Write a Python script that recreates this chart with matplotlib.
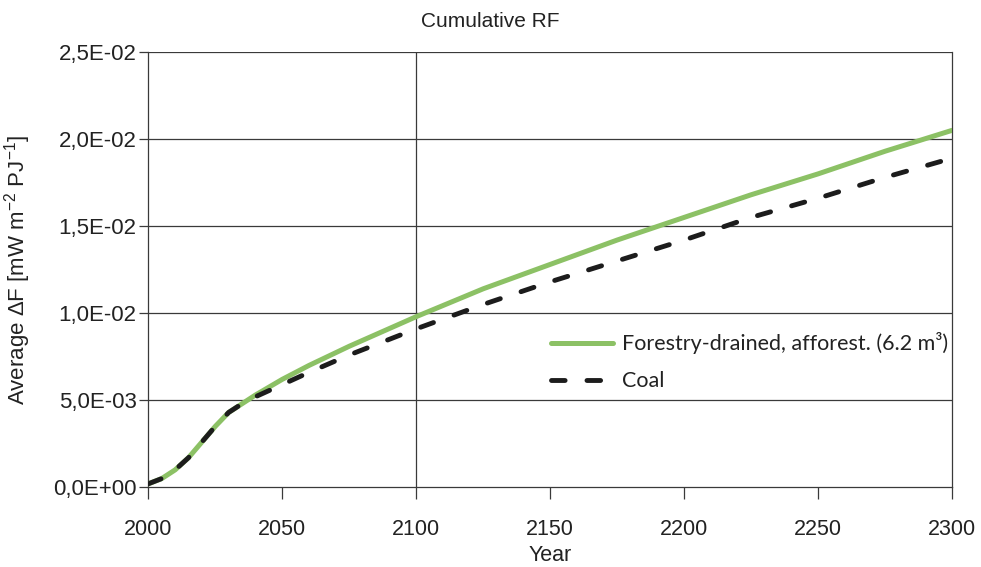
import numpy as np
import matplotlib
matplotlib.use("Agg")
import matplotlib.pyplot as plt
from matplotlib.ticker import FuncFormatter

# ---------- data ----------
years = [2000, 2005, 2010, 2015, 2020, 2025, 2030, 2035, 2040, 2050, 2060,
         2075, 2100, 2125, 2150, 2175, 2200, 2225, 2250, 2275, 2300]
forestry = [0.0002, 0.0005, 0.0010, 0.0017, 0.0026, 0.0035, 0.0043, 0.0048,
            0.0053, 0.0062, 0.0070, 0.0081, 0.0098, 0.0114, 0.0128, 0.0142,
            0.0155, 0.0168, 0.0180, 0.0193, 0.0205]
coal = [0.0002, 0.0005, 0.0010, 0.0017, 0.0026, 0.0035, 0.0043, 0.0048,
        0.0052, 0.0059, 0.0066, 0.0076, 0.0091, 0.0105, 0.0118, 0.0130,
        0.0142, 0.0155, 0.0166, 0.0178, 0.0189]

x_ticks = [2000, 2050, 2100, 2150, 2200, 2250, 2300]
y_ticks = [0.0, 0.005, 0.010, 0.015, 0.020, 0.025]

plt.rcParams["font.family"] = ["Liberation Sans", "DejaVu Sans"]
plt.rcParams["mathtext.fontset"] = "custom"
plt.rcParams["mathtext.rm"] = "Liberation Sans"
plt.rcParams["mathtext.it"] = "Liberation Sans"

GRID = "#3a3a3a"
TXT = "#222222"

fig = plt.figure(figsize=(9.81, 5.67), dpi=100)
ax = fig.add_axes([0.1512, 0.1406, 0.8193, 0.7677])

# horizontal grid + the single vertical line at 2100
for v in y_ticks[1:]:
    ax.axhline(v, color=GRID, linewidth=0.9, zorder=1)
ax.axvline(2100, color=GRID, linewidth=0.9, zorder=1)

ax.plot(years, forestry, color="#8cc165", linewidth=3.6,
        solid_capstyle="round", zorder=3,
        label="Forestry-drained, afforest. (6.2 m\u00b3)")
ax.plot(years, coal, color="#1c1c1c", linewidth=3.5,
        dashes=(2.8, 4.5), dash_capstyle="round", zorder=4, label="Coal")

ax.set_xlim(2000, 2300)
ax.set_ylim(0, 0.025)
ax.set_xticks(x_ticks)
ax.set_yticks(y_ticks)
ax.yaxis.set_major_formatter(
    FuncFormatter(lambda v, p: f"{v:.1E}".replace(".", ",")))

for side in ["left", "bottom", "right"]:
    ax.spines[side].set_color(GRID)
    ax.spines[side].set_linewidth(0.9)
ax.spines["top"].set_visible(False)

ax.tick_params(axis="y", direction="out", length=6.5, width=0.9,
               color=GRID, labelsize=16, labelcolor=TXT, pad=2)
ax.tick_params(axis="x", direction="out", length=8.5, width=0.9,
               color=GRID, labelsize=15.5, labelcolor=TXT, pad=14)

ax.set_xlabel("Year", fontsize=15.5, color=TXT, labelpad=4)
ax.set_ylabel(r"Average $\Delta$F [mW m$^{-2}$ PJ$^{-1}$]",
              fontsize=16, color=TXT)
ax.yaxis.set_label_coords(-0.143, 0.5)
fig.text(0.5, 0.962, "Cumulative RF", ha="center", va="center",
         fontsize=15, color=TXT)

leg = ax.legend(loc="upper left", bbox_to_anchor=(0.49, 0.376),
                frameon=False, borderaxespad=0, handlelength=2.9,
                handletextpad=0.4, labelspacing=0.8,
                prop={"family": ["Lato", "DejaVu Sans"], "size": 15.5})
for t in leg.get_texts():
    t.set_color(TXT)

fig.savefig("out.png", dpi=100)
